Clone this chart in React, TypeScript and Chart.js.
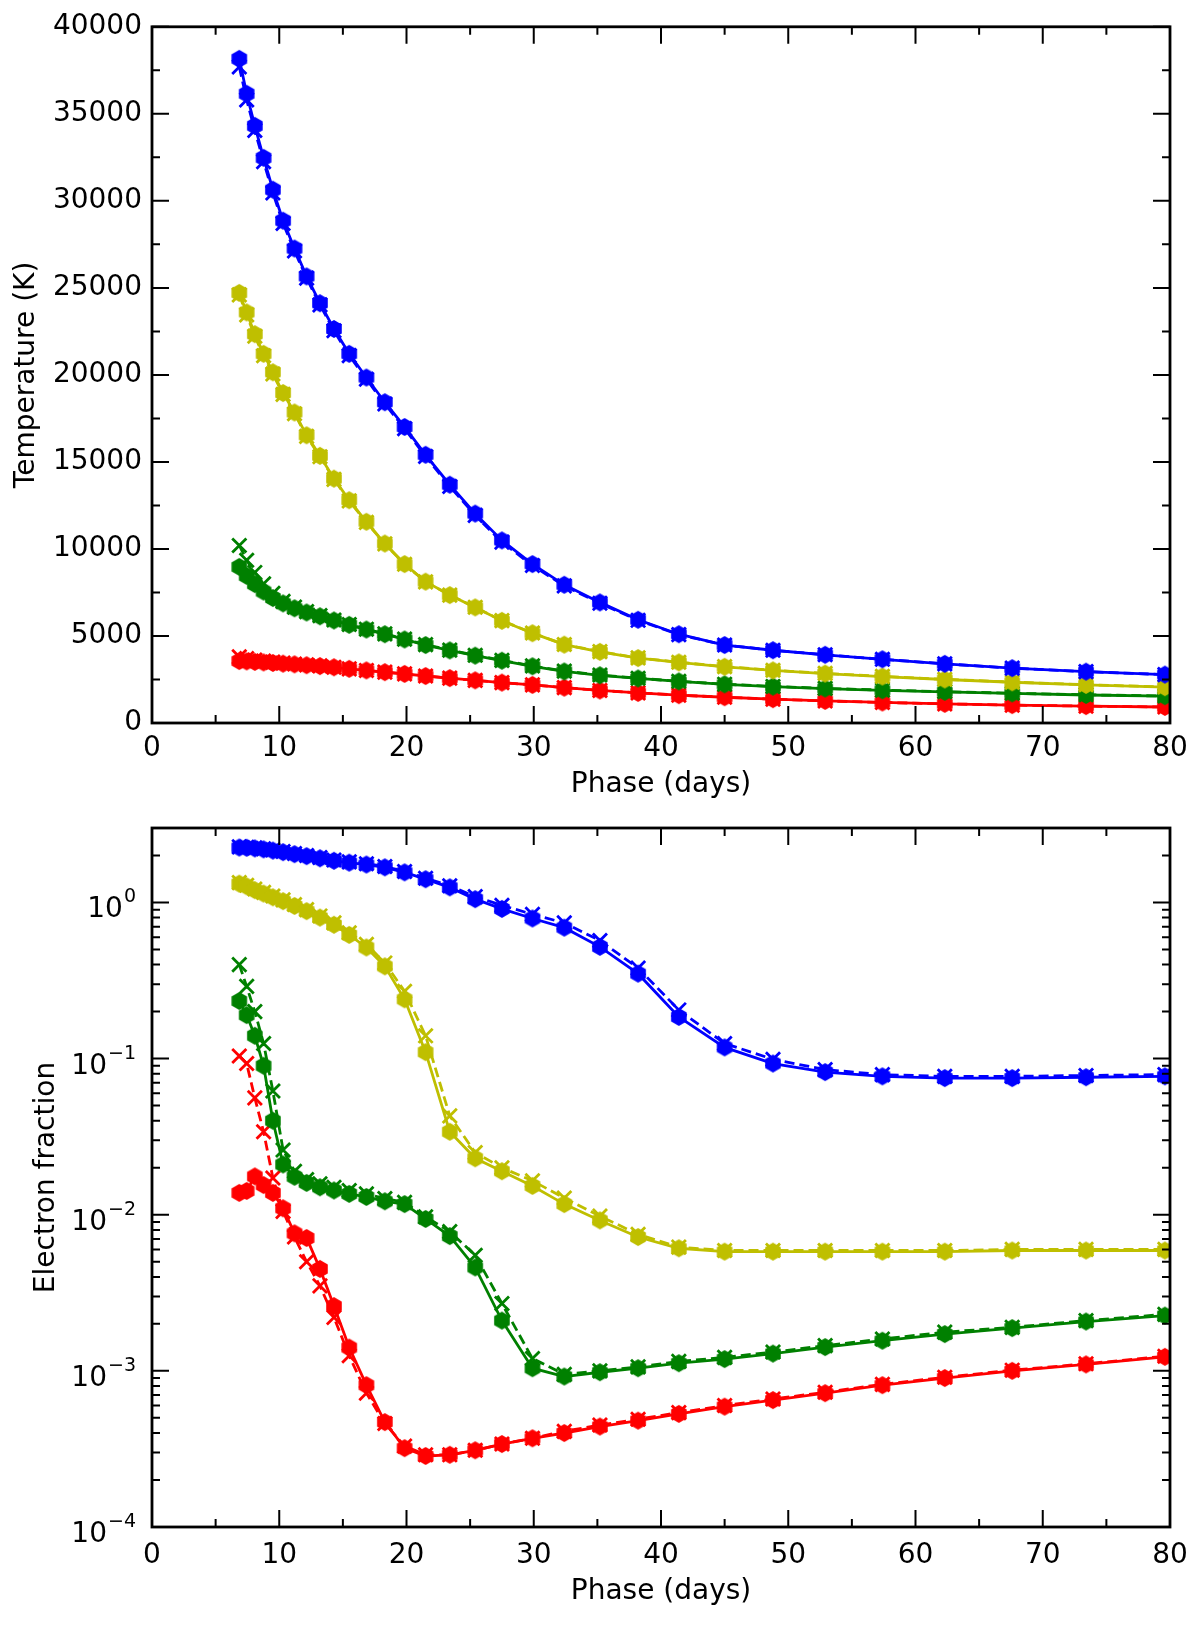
import { useEffect, useRef } from "react"
import { Chart, registerables } from "chart.js"

Chart.register(...registerables)

const FONT = "'DejaVu Sans', sans-serif"

// model epochs (days since explosion), shared by every curve
const phase = [
  6.86, 7.44, 8.08, 8.77, 9.5, 10.3, 11.2, 12.15, 13.2, 14.3, 15.5, 16.85, 18.3, 19.85, 21.5, 23.4,
  25.4, 27.5, 29.9, 32.4, 35.2, 38.2, 41.4, 45.0, 48.8, 52.9, 57.4, 62.3, 67.6, 73.4, 79.6,
]

// temperature (K): solid = hexagon markers, dashed = x markers
const tempBlue = [
  38160, 36150, 34310, 32470, 30640, 28860, 27260, 25660, 24120, 22640, 21210, 19850, 18430, 17010, 15410, 13690,
  12030, 10490, 9130, 7940, 6930, 5930, 5100, 4480, 4180, 3920, 3660, 3400, 3150, 2950, 2780,
]
const tempBlueX = [
  37700, 35800, 34050, 32250, 30450, 28700, 27120, 25560, 24020, 22540, 21110, 19750, 18330, 16910, 15310, 13590,
  11930, 10390, 9050, 7880, 6880, 5900, 5080, 4480, 4180, 3920, 3660, 3400, 3150, 2950, 2780,
]
const tempYellow = [
  24710, 23590, 22340, 21210, 20150, 18960, 17840, 16530, 15350, 14040, 12800, 11560, 10310, 9130, 8120, 7350,
  6640, 5870, 5160, 4500, 4090, 3730, 3480, 3230, 3020, 2840, 2670, 2500, 2340, 2190, 2060,
]
const tempYellowX = [
  24600, 23450, 22220, 21100, 20050, 18880, 17770, 16470, 15300, 14000, 12760, 11530, 10290, 9120, 8110, 7350,
  6650, 5880, 5170, 4510, 4100, 3740, 3490, 3240, 3030, 2850, 2680, 2510, 2350, 2200, 2070,
]
const tempGreen = [
  8970, 8450, 7980, 7550, 7180, 6870, 6590, 6350, 6130, 5890, 5640, 5370, 5100, 4800, 4480, 4170,
  3870, 3580, 3260, 2960, 2740, 2560, 2390, 2220, 2090, 1980, 1880, 1790, 1700, 1610, 1540,
]
const tempGreenX = [
  10200, 9350, 8650, 8000, 7450, 6990, 6660, 6400, 6170, 5920, 5660, 5390, 5120, 4820, 4500, 4190,
  3890, 3600, 3280, 2980, 2760, 2570, 2400, 2230, 2100, 1990, 1890, 1800, 1710, 1620, 1550,
]
const tempRed = [
  3560, 3540, 3510, 3480, 3450, 3410, 3370, 3320, 3270, 3200, 3110, 3020, 2920, 2820, 2700, 2580,
  2450, 2320, 2190, 2030, 1870, 1730, 1600, 1480, 1370, 1270, 1180, 1100, 1030, 970, 920,
]
const tempRedX = [
  3800, 3700, 3620, 3560, 3500, 3440, 3390, 3340, 3280, 3200, 3110, 3020, 2920, 2820, 2700, 2580,
  2450, 2320, 2190, 2030, 1870, 1730, 1600, 1480, 1370, 1270, 1180, 1100, 1030, 970, 920,
]

// electron fraction
const fracBlue = [
  2.25, 2.24, 2.22, 2.19, 2.15, 2.1, 2.04, 1.98, 1.92, 1.85, 1.8, 1.75, 1.68, 1.56, 1.41, 1.25,
  1.05, 0.91, 0.79, 0.69, 0.52, 0.35, 0.185, 0.118, 0.093, 0.082, 0.077, 0.075, 0.075, 0.076, 0.077,
]
const fracBlueX = [
  2.27, 2.26, 2.24, 2.21, 2.17, 2.12, 2.06, 2.0, 1.94, 1.87, 1.82, 1.77, 1.7, 1.58, 1.43, 1.28,
  1.09, 0.96, 0.84, 0.74, 0.57, 0.38, 0.205, 0.125, 0.099, 0.085, 0.079, 0.077, 0.077, 0.078, 0.079,
]
const fracYellow = [
  1.32, 1.27, 1.2, 1.14, 1.08, 1.02, 0.95, 0.88, 0.8, 0.72, 0.62, 0.515, 0.39, 0.24, 0.11, 0.034,
  0.023, 0.019, 0.0153, 0.0117, 0.0092, 0.0072, 0.0061, 0.0058, 0.0058, 0.0058, 0.0058, 0.0058, 0.0059, 0.0059, 0.0059,
]
const fracYellowX = [
  1.34, 1.29, 1.22, 1.16, 1.1, 1.04, 0.97, 0.9, 0.82, 0.74, 0.64, 0.54, 0.41, 0.27, 0.14, 0.043,
  0.025, 0.02, 0.0165, 0.0128, 0.0098, 0.0075, 0.0062, 0.0059, 0.0059, 0.0059, 0.0059, 0.0059, 0.006, 0.006, 0.006,
]
const fracGreen = [
  0.234, 0.19, 0.14, 0.09, 0.04, 0.021, 0.0175, 0.016, 0.015, 0.0143, 0.0136, 0.013, 0.0122, 0.0117, 0.0094, 0.0073,
  0.0046, 0.0021, 0.00104, 0.00092, 0.00098, 0.00104, 0.00112, 0.00119, 0.00129, 0.00142, 0.00156, 0.00172, 0.00188,
  0.00207, 0.00226,
]
const fracGreenX = [
  0.4, 0.29, 0.2, 0.125, 0.062, 0.026, 0.019, 0.0168, 0.0158, 0.015, 0.0143, 0.0136, 0.0127, 0.012, 0.0097, 0.0078,
  0.0055, 0.0027, 0.0012, 0.00095, 0.001, 0.00106, 0.00115, 0.00122, 0.00132, 0.00145, 0.0016, 0.00177, 0.0019,
  0.0021, 0.0023,
]
const fracRed = [
  0.0138, 0.0142, 0.0176, 0.0155, 0.0138, 0.011, 0.0076, 0.0071, 0.0045, 0.0026, 0.00141, 0.00081, 0.00047, 0.00032,
  0.000285, 0.00029, 0.00031, 0.00034, 0.00037, 0.0004, 0.00044, 0.00048, 0.00053, 0.00059, 0.00065, 0.00072,
  0.00081, 0.0009, 0.001, 0.0011, 0.00123,
]
const fracRedX = [
  0.104, 0.093, 0.056, 0.034, 0.0172, 0.0105, 0.0072, 0.005, 0.0035, 0.0022, 0.00125, 0.00072, 0.00046, 0.00033,
  0.00029, 0.00029, 0.00031, 0.00034, 0.00037, 0.00041, 0.00045, 0.00049, 0.00054, 0.0006, 0.00066, 0.00073,
  0.00082, 0.00091, 0.00101, 0.00111, 0.00124,
]

// tick positions
const phaseMajor = [0, 10, 20, 30, 40, 50, 60, 70, 80]
const phaseMinor = [5, 15, 25, 35, 45, 55, 65, 75]
const tempMajor = [0, 5000, 10000, 15000, 20000, 25000, 30000, 35000, 40000]
const tempMinor = [2500, 7500, 12500, 17500, 22500, 27500, 32500, 37500]
const fracMajor = [1e-4, 1e-3, 1e-2, 1e-1, 1]
const fracMinor: number[] = []
for (const d of fracMajor) for (let k = 2; k <= 9; k++) if (k * d <= 3) fracMinor.push(k * d)

const BLUE = "#0000ff"
const YELLOW = "#bfbf00"
const GREEN = "#008000"
const RED = "#ff0000"

function hexagon(color: string) {
  const c = document.createElement("canvas")
  c.width = 18
  c.height = 20
  const g = c.getContext("2d")!
  g.fillStyle = color
  g.beginPath()
  for (let i = 0; i < 6; i++) {
    const a = Math.PI / 2 + (i * Math.PI) / 3
    const px = 9 + 9 * Math.cos(a)
    const py = 10 - 9 * Math.sin(a)
    if (i === 0) g.moveTo(px, py)
    else g.lineTo(px, py)
  }
  g.closePath()
  g.fill()
  return c
}

function pts(ys: number[]) {
  return phase.map((x, i) => ({ x, y: ys[i] }))
}

function pair(color: string, solid: number[], dashed: number[]) {
  return [
    {
      data: pts(solid),
      borderColor: color,
      backgroundColor: color,
      borderWidth: 2.8,
      pointStyle: hexagon(color),
      pointRadius: 8,
    },
    {
      data: pts(dashed),
      borderColor: color,
      backgroundColor: color,
      borderWidth: 2.8,
      borderDash: [10, 5],
      pointStyle: "crossRot",
      pointRadius: 10,
      pointBorderWidth: 2.8,
      pointBorderColor: color,
    },
  ]
}

// frame, inward tick marks on all four sides, and 10^n labels for the log axis
const inwardTicks = {
  id: "inwardTicks",
  afterDraw(chart: any, _args: unknown, opts: any) {
    const { ctx, chartArea: a } = chart
    const sx = chart.scales.x
    const sy = chart.scales.y
    ctx.save()
    ctx.strokeStyle = "#000"
    ctx.lineWidth = 2
    ctx.beginPath()
    const xMarks = (vals: number[], len: number) =>
      vals.forEach((v) => {
        const p = sx.getPixelForValue(v)
        ctx.moveTo(p, a.bottom)
        ctx.lineTo(p, a.bottom - len)
        ctx.moveTo(p, a.top)
        ctx.lineTo(p, a.top + len)
      })
    const yMarks = (vals: number[], len: number) =>
      vals.forEach((v) => {
        const p = sy.getPixelForValue(v)
        ctx.moveTo(a.left, p)
        ctx.lineTo(a.left + len, p)
        ctx.moveTo(a.right, p)
        ctx.lineTo(a.right - len, p)
      })
    xMarks(opts.xMajor, 17)
    xMarks(opts.xMinor, 8)
    yMarks(opts.yMajor, 17)
    yMarks(opts.yMinor, 8)
    ctx.stroke()
    ctx.lineWidth = 2.8
    ctx.strokeRect(a.left, a.top, a.right - a.left, a.bottom - a.top)

    if (opts.logLabels) {
      ctx.fillStyle = "#000"
      ctx.textAlign = "right"
      ctx.textBaseline = "alphabetic"
      opts.logLabels.forEach((v: number) => {
        const p = sy.getPixelForValue(v)
        const exp = String(Math.round(Math.log10(v))).replace("-", "\u2212")
        ctx.font = `19px ${FONT}`
        const w = ctx.measureText(exp).width
        ctx.fillText(exp, a.left - 16, p)
        ctx.font = `28px ${FONT}`
        ctx.fillText("10", a.left - 17 - w, p + 15)
      })
    }
    ctx.restore()
  },
}

function phaseAxis(height: number, labelPad: number) {
  return {
    type: "linear",
    min: 0,
    max: 80,
    afterFit: (s: any) => {
      s.height = height
    },
    grid: { display: false, drawTicks: false },
    border: { display: false },
    ticks: {
      stepSize: 10,
      autoSkip: false,
      maxRotation: 0,
      padding: labelPad,
      color: "#000",
      font: { family: FONT, size: 28 },
    },
    title: {
      display: true,
      text: "Phase (days)",
      color: "#000",
      padding: { top: 0, bottom: 1 },
      font: { family: FONT, size: 28 },
    },
  }
}

export default function App() {
  const topRef = useRef<HTMLCanvasElement>(null)
  const bottomRef = useRef<HTMLCanvasElement>(null)

  useEffect(() => {
    if (!topRef.current || !bottomRef.current) return

    const top = new Chart(topRef.current, {
      type: "line",
      data: {
        datasets: [
          ...pair(BLUE, tempBlue, tempBlueX),
          ...pair(YELLOW, tempYellow, tempYellowX),
          ...pair(GREEN, tempGreen, tempGreenX),
          ...pair(RED, tempRed, tempRedX),
        ] as any,
      },
      options: {
        responsive: false,
        animation: false,
        layout: { padding: { top: 23, right: 30, left: 0, bottom: 0 } },
        plugins: {
          legend: { display: false },
          tooltip: { enabled: false },
          inwardTicks: { xMajor: phaseMajor, xMinor: phaseMinor, yMajor: tempMajor, yMinor: tempMinor },
        } as any,
        scales: {
          x: phaseAxis(80, 9) as any,
          y: {
            type: "linear",
            min: 0,
            max: 40000,
            afterFit: (s: any) => {
              s.width = 152
            },
            grid: { display: false, drawTicks: false },
            border: { display: false },
            ticks: {
              stepSize: 5000,
              autoSkip: false,
              padding: 10,
              color: "#000",
              font: { family: FONT, size: 28 },
              callback: (v: any) => String(v),
            },
            title: {
              display: true,
              text: "Temperature (K)",
              color: "#000",
              padding: { top: 10, bottom: 0 },
              font: { family: FONT, size: 28 },
            },
          },
        },
      },
      plugins: [inwardTicks],
    })

    const bottom = new Chart(bottomRef.current, {
      type: "line",
      data: {
        datasets: [
          ...pair(BLUE, fracBlue, fracBlueX),
          ...pair(YELLOW, fracYellow, fracYellowX),
          ...pair(GREEN, fracGreen, fracGreenX),
          ...pair(RED, fracRed, fracRedX),
        ] as any,
      },
      options: {
        responsive: false,
        animation: false,
        layout: { padding: { top: 23, right: 30, left: 0, bottom: 0 } },
        plugins: {
          legend: { display: false },
          tooltip: { enabled: false },
          inwardTicks: {
            xMajor: phaseMajor,
            xMinor: phaseMinor,
            yMajor: fracMajor,
            yMinor: fracMinor,
            logLabels: fracMajor,
          },
        } as any,
        scales: {
          x: phaseAxis(83, 12) as any,
          y: {
            type: "logarithmic",
            min: 1e-4,
            max: 3,
            afterFit: (s: any) => {
              s.width = 152
            },
            grid: { display: false, drawTicks: false },
            border: { display: false },
            ticks: { display: false },
            title: {
              display: true,
              text: "Electron fraction",
              color: "#000",
              padding: { top: 30, bottom: 0 },
              font: { family: FONT, size: 28 },
            },
          },
        },
      },
      plugins: [inwardTicks],
    })

    return () => {
      top.destroy()
      bottom.destroy()
    }
  }, [])

  return (
    <div style={{ position: "absolute", left: 0, top: 0, width: 1200, height: 1630, background: "#fff" }}>
      <div style={{ position: "absolute", left: 0, top: 0 }}>
        <canvas ref={topRef} width={1200} height={803} style={{ display: "block" }} />
      </div>
      <div style={{ position: "absolute", left: 0, top: 805 }}>
        <canvas ref={bottomRef} width={1200} height={805} style={{ display: "block" }} />
      </div>
    </div>
  )
}
